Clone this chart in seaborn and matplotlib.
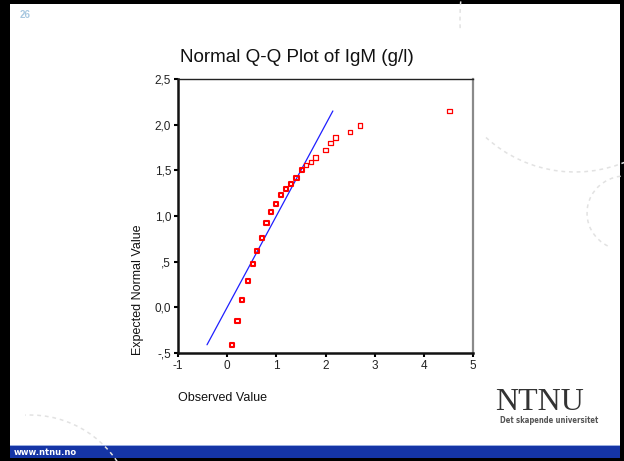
import matplotlib
matplotlib.use("Agg")
import matplotlib.pyplot as plt
import seaborn as sns
from matplotlib.patches import Rectangle, Arc

# ---- data ----
observed = [0.10, 0.21, 0.31, 0.42, 0.52, 0.60, 0.70, 0.80, 0.90, 1.00,
            1.10, 1.20, 1.30, 1.41, 1.52, 1.60, 1.70, 1.80, 2.00, 2.10,
            2.20, 2.50, 2.70, 4.52]
expected = [-0.41, -0.15, 0.08, 0.29, 0.47, 0.62, 0.76, 0.92, 1.04, 1.13,
            1.23, 1.30, 1.35, 1.42, 1.50, 1.56, 1.59, 1.64, 1.72, 1.80,
            1.86, 1.92, 1.99, 2.15]
n_bold = 15  # lower points drawn with heavier outline (overlapping ties)
x_ticks = [-1, 0, 1, 2, 3, 4, 5]
x_ticklabels = ["-1", "0", "1", "2", "3", "4", "5"]
y_ticks = [-0.5, 0.0, 0.5, 1.0, 1.5, 2.0, 2.5]
y_ticklabels = ["-,5", "0,0", ",5", "1,0", "1,5", "2,0", "2,5"]
title = "Normal Q-Q Plot of IgM (g/l)"
xlabel = "Observed Value"
ylabel = "Expected Normal Value"

sns.set_style("white")
plt.rcParams['font.family'] = ['Liberation Sans', 'DejaVu Sans']

W, H = 624, 461
fig = plt.figure(figsize=(W / 100, H / 100), dpi=100, facecolor="black")

def fx(px):
    return px / W

def fy(py):
    return 1 - py / H

# slide background
fig.patches.append(Rectangle((fx(10), fy(458)), fx(620) - fx(10), fy(4) - fy(458),
                             transform=fig.transFigure, facecolor="white",
                             edgecolor="none", zorder=-10))
# blue footer bar
fig.patches.append(Rectangle((fx(10), fy(458)), fx(620) - fx(10), fy(446) - fy(458),
                             transform=fig.transFigure, facecolor="#1535a6",
                             edgecolor="none", zorder=-5))
fig.patches.append(Rectangle((fx(10), fy(446)), fx(620) - fx(10), 1.2 / H,
                             transform=fig.transFigure, facecolor="#9aaee0",
                             edgecolor="none", zorder=-5))

# decorative dashed arcs (very faint)
deco = dict(transform=fig.transFigure, color="#e2e2e2", lw=1.1, ls=(0, (2.5, 2.5)))
fig.patches.append(Arc((fx(575), fy(40)), 264 / W, 264 / H, theta1=236, theta2=292, **deco))
fig.patches.append(Arc((fx(625), fy(213)), 76 / W, 74 / H, theta1=95, theta2=250, **deco))
fig.patches.append(Arc((fx(30), fy(520)), 210 / W, 210 / H, theta1=28, theta2=92, **deco))
fig.patches.append(Arc((fx(700), fy(20)), 480 / W, 480 / H, theta1=174, theta2=183, **deco))

ax = fig.add_axes([fx(178), fy(353), fx(473) - fx(178), fy(79) - fy(353)])
ax.set_facecolor("white")

sns.lineplot(x=[min(expected), max(expected)], y=[min(expected), max(expected)],
             color="#1f1fff", lw=0.9, ax=ax, zorder=2)
sns.scatterplot(x=observed[:n_bold], y=expected[:n_bold], marker="s", s=9,
                facecolor="none", edgecolor="#ff0000", linewidth=1.5, ax=ax, zorder=3)
sns.scatterplot(x=observed[n_bold:], y=expected[n_bold:], marker="s", s=10,
                facecolor="none", edgecolor="#ff0000", linewidth=0.9, ax=ax, zorder=3)

ax.set_xlim(-1, 5)
ax.set_ylim(-0.5, 2.5)
ax.set_xticks(x_ticks)
ax.set_xticklabels(x_ticklabels)
ax.set_yticks(y_ticks)
ax.set_yticklabels(y_ticklabels)
ax.tick_params(axis="both", direction="out", length=3, width=1.5, color="black",
               labelsize=8.5, labelcolor="#222222", pad=2,
               bottom=True, left=True)
ax.set_xlabel("")
ax.set_ylabel("")
for side in ["left", "bottom"]:
    ax.spines[side].set_color("#111111")
    ax.spines[side].set_linewidth(1.8)
ax.spines["top"].set_color("#222222")
ax.spines["top"].set_linewidth(1.0)
ax.spines["right"].set_color("#8a8a8a")
ax.spines["right"].set_linewidth(1.6)

fig.text(fx(296.5), fy(57), title, ha="center", va="center", fontsize=13.6, color="#111111")
fig.text(fx(178), fy(398), xlabel, ha="left", va="center", fontsize=9, color="#111111")
fig.text(fx(138), fy(355), ylabel, ha="center", va="bottom", rotation=90,
         fontsize=9, color="#111111")

fig.text(fx(20), fy(15), "26", ha="left", va="center", fontsize=7,
         fontweight="bold", color="#a8c8e0")
fig.text(fx(539), fy(410), "NTNU", ha="center", va="baseline", fontsize=23,
         family=["Liberation Serif", "DejaVu Serif"], color="#333333")
fig.text(fx(549), fy(420.5), "Det skapende universitet", ha="center", va="center",
         fontsize=5.5, fontweight="bold", color="#555555",
         family=["DejaVu Sans"], fontstretch="condensed")
fig.text(fx(14), fy(452), "www.ntnu.no", ha="left", va="center", fontsize=6,
         fontweight="bold", color="white", family=["DejaVu Sans"])

fig.savefig("out.png", dpi=100, facecolor="black")
